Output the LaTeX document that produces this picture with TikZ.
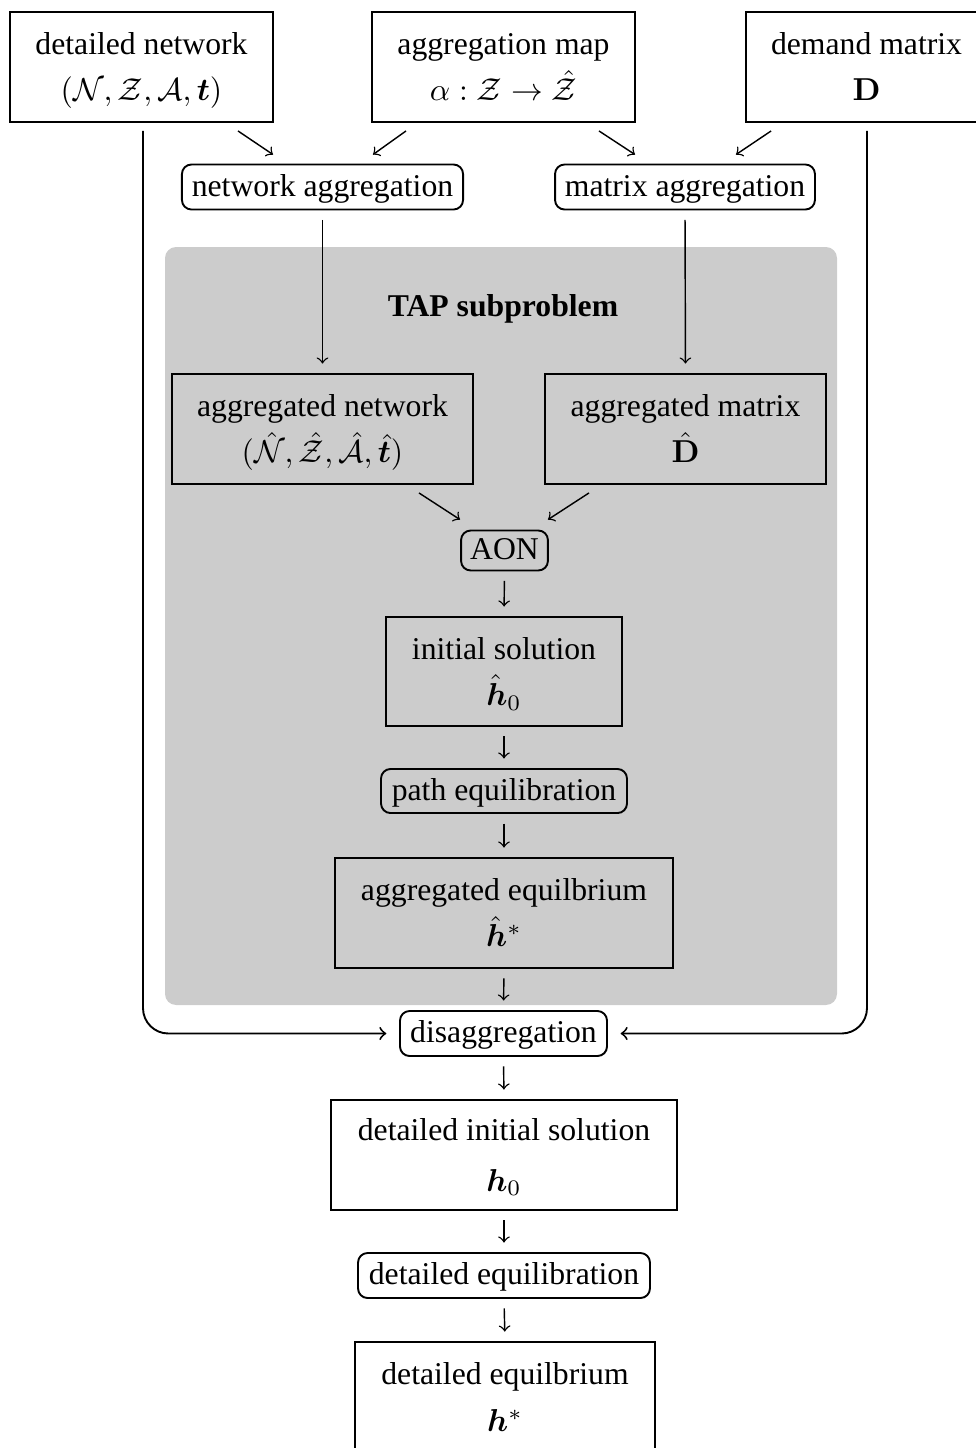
\documentclass[tikz,border=0pt]{standalone}
\usepackage{amsmath}
\usepackage{bm}
\usepackage[no-math]{fontspec}
\setmainfont{Liberation Serif}
\usetikzlibrary{calc}
\newcommand{\twolines}[3][2.5pt]{\rule{0pt}{10.4pt}#2\\[#1]\strut #3}
\tikzset{
  sqbox/.style={draw, line width=0.6pt, align=center, inner sep=0pt, minimum height=34.7pt,
    execute at begin node={\lineskiplimit=-100pt}},
  rbox/.style={draw, line width=0.6pt, rounded corners=3pt, align=center, inner sep=0pt, minimum height=14.2pt,
    text height=7pt, text depth=1.1pt},
  arr/.style={->, line width=0.45pt, shorten >=3pt, shorten <=3pt},
  darr/.style={->, line width=0.45pt},
  side/.style={->, line width=0.6pt, rounded corners=8pt}
}
\begin{document}
\begin{tikzpicture}[x=0.3155pt, y=-0.3155pt]
\useasboundingbox (0,0) rectangle (976,1448);
% gray region
\fill[gray!40, rounded corners=3.5pt] (165,247) rectangle (837,1005);
\node[font=\bfseries] (tap) at (503,309) {TAP subproblem};
% top row
\node[sqbox, minimum width=83.0pt] (dn) at (141.5,67) {\twolines{detailed network}{$(\mathcal{N},\mathcal{Z},\mathcal{A},\bm{t})$}};
\node[sqbox, minimum width=83.0pt] (am) at (503.5,67) {\twolines{aggregation map}{$\alpha:\mathcal{Z}\to\hat{\mathcal{Z}}$}};
\node[sqbox, minimum width=76.0pt] (dm) at (866.5,67) {\twolines{demand matrix}{$\mathbf{D}$}};
% aggregation steps
\node[rbox, minimum width=88.7pt] (na) at (322.5,187) {network aggregation};
\node[rbox, minimum width=82.0pt] (ma) at (685,187) {matrix aggregation};
% TAP subproblem
\node[sqbox, minimum width=95.0pt] (an) at (322.5,429) {\twolines{aggregated network}{$(\hat{\mathcal{N}},\hat{\mathcal{Z}},\hat{\mathcal{A}},\hat{\bm{t}})$}};
\node[sqbox, minimum width=88.7pt] (amx) at (685.5,429) {\twolines{aggregated matrix}{$\hat{\mathbf{D}}$}};
\node[rbox, minimum width=27.4pt, minimum height=12.6pt] (aon) at (504.5,550.5) {AON};
\node[sqbox, minimum width=74.5pt, minimum height=34.4pt] (is) at (504,671.5) {\twolines{initial solution}{$\hat{\bm{h}}_0$}};
\node[rbox, minimum width=77.6pt, minimum height=13.9pt] (pe) at (504,791) {path equilibration};
\node[sqbox, minimum width=106.6pt] (ae) at (504,913) {\twolines{aggregated equilbrium}{$\hat{\bm{h}}^*$}};
% bottom part
\node[rbox, minimum width=65.3pt] (da) at (503.5,1033.5) {disaggregation};
\node[sqbox, minimum width=109.2pt] (dis) at (504,1155) {\twolines[4pt]{detailed initial solution}{$\bm{h}_0$}};
\node[rbox, minimum width=92.1pt] (deq) at (504,1275.5) {detailed equilibration};
\node[sqbox, minimum width=94.7pt] (dqm) at (505,1397) {\twolines[3pt]{detailed equilbrium}{$\bm{h}^*$}};
% diagonal arrows
\draw[darr] ($(dn.south east)+(-36,8)$) -- ($(na.north)+(-49.5,-9)$);
\draw[darr] ($(am.south west)+(35,8)$) -- ($(na.north)+(50.5,-9)$);
\draw[darr] ($(am.south east)+(-37,8)$) -- ($(ma.north)+(-50,-9)$);
\draw[darr] ($(dm.south west)+(26,8)$) -- ($(ma.north)+(51,-9)$);
\draw[darr] ($(an.south east)+(-55,8)$) -- ($(aon.north)+(-44.5,-10)$);
\draw[darr] ($(amx.south west)+(45,8)$) -- ($(aon.north)+(43.5,-10)$);
% vertical arrows
\draw[arr] (na.south) -- (an.north);
\draw[arr] (ma.south) -- (amx.north);
\draw[arr] (aon.south) -- (is.north);
\draw[arr] (is.south) -- (pe.north);
\draw[arr] (pe.south) -- (ae.north);
\draw[arr] (ae.south) -- (da.north);
\draw[arr] (da.south) -- (dis.north);
\draw[arr] (dis.south) -- (deq.north);
\draw[arr] (deq.south) -- (dqm.north);
% side connectors
\draw[side, shorten >=4pt] ($(dn.south)+(1.5,8)$) |- (da.west);
\draw[side, shorten >=4pt] ($(dm.south)+(0.5,8)$) |- (da.east);
\end{tikzpicture}
\end{document}
